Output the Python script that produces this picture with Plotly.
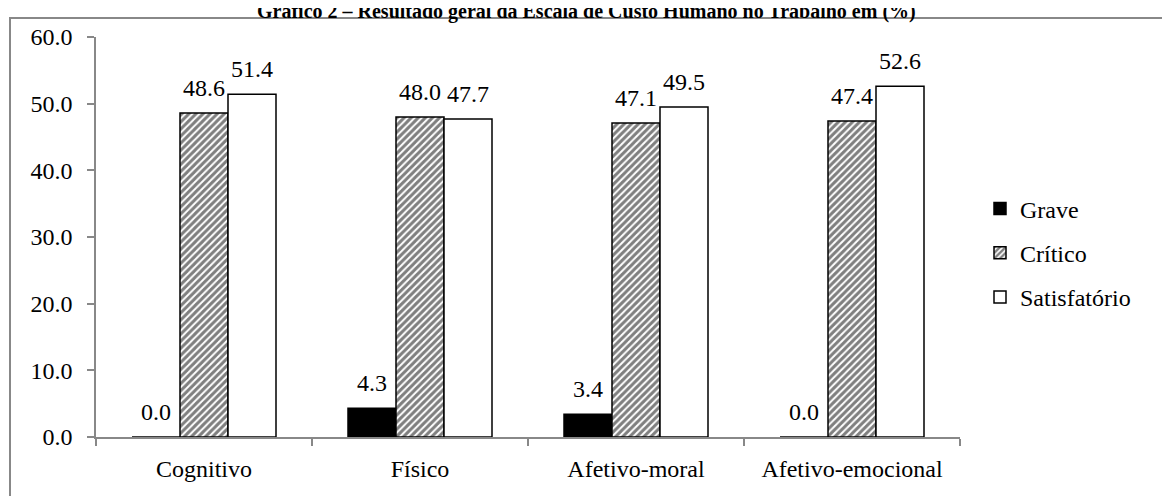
import plotly.graph_objects as go

categories = ["Cognitivo", "Físico", "Afetivo-moral", "Afetivo-emocional"]
grave = [0.0, 4.3, 3.4, 0.0]
critico = [48.6, 48.0, 47.1, 47.4]
satisfatorio = [51.4, 47.7, 49.5, 52.6]
series_names = ["Grave", "Crítico", "Satisfatório"]
y_ticks = [0, 10, 20, 30, 40, 50, 60]
title_text = "Gráfico 2 – Resultado geral da Escala de Custo Humano no Trabalho em (%)"

FONT = "Liberation Serif, Times New Roman, serif"
FS = 24
W, H = 1170, 496
ML, MR, MT, MB = 88, 218, 29, 67
PW, PH = W - ML - MR, H - MT - MB

def px_x(p):
    return (p - ML) / PW

def px_y(p):
    return (H - MB - p) / PH

fig = go.Figure()

styles = [
    dict(marker=dict(color="black", line=dict(color="black", width=1.5))),
    dict(marker=dict(color="white", line=dict(color="black", width=1.5),
                     pattern=dict(shape="/", fgcolor="black", bgcolor="white",
                                  size=5, solidity=0.6, fillmode="overlay"))),
    dict(marker=dict(color="white", line=dict(color="black", width=1.5))),
]
data = [grave, critico, satisfatorio]

for i, (name, vals) in enumerate(zip(series_names, data)):
    fig.add_trace(go.Bar(
        x=categories, y=vals, name=name, offsetgroup=str(i),
        legendgroup=name, **styles[i], hoverinfo="skip",
    ))

for i, (name, vals) in enumerate(zip(series_names, data)):
    fig.add_trace(go.Scatter(
        x=categories, y=vals, mode="markers+text", offsetgroup=str(i),
        text=[f"{v:.1f}" for v in vals], textposition="top center",
        textfont=dict(family=FONT, size=FS, color="black"),
        marker=dict(size=16, color="rgba(0,0,0,0)"),
        showlegend=False, hoverinfo="skip", cliponaxis=False,
    ))

fig.update_layout(
    width=W, height=H,
    margin=dict(l=ML, r=MR, t=MT, b=MB, autoexpand=False),
    paper_bgcolor="white", plot_bgcolor="white",
    barmode="group", bargap=1/3, bargroupgap=0,
    scattermode="group", scattergap=1/3,
    font=dict(family=FONT, size=FS, color="black"),
    showlegend=True,
    legend=dict(x=px_x(972), xanchor="left", y=px_y(245), yanchor="middle",
                font=dict(family=FONT, size=FS, color="black"),
                traceorder="grouped", tracegroupgap=10,
                bgcolor="rgba(0,0,0,0)"),
    xaxis=dict(type="category", categoryorder="array", categoryarray=categories,
               showline=True, linecolor="#888888", linewidth=1.5,
               ticks="outside", tickson="boundaries", ticklen=7,
               tickcolor="#888888", tickwidth=1.5, showgrid=False,
               ticklabelstandoff=9,
               tickfont=dict(family=FONT, size=FS, color="black")),
    yaxis=dict(range=[0, 60], tickvals=y_ticks, tickformat=".1f",
               showline=True, linecolor="#888888", linewidth=1.5,
               ticks="outside", ticklen=7, tickcolor="#888888", tickwidth=1.5,
               showgrid=False, zeroline=False, ticklabelstandoff=10,
               tickfont=dict(family=FONT, size=FS, color="black")),
    shapes=[dict(type="rect", xref="paper", yref="paper",
                 x0=px_x(2), x1=px_x(1300), y0=px_y(10), y1=px_y(600),
                 line=dict(color="#888888", width=2), fillcolor="rgba(0,0,0,0)",
                 layer="below")],
    annotations=[dict(text="<b>" + title_text + "</b>", xref="paper", yref="paper",
                      x=px_x(578), y=px_y(3), xanchor="center", yanchor="middle",
                      showarrow=False,
                      font=dict(family=FONT, size=20, color="black"))],
)

fig.write_html("out.html")
